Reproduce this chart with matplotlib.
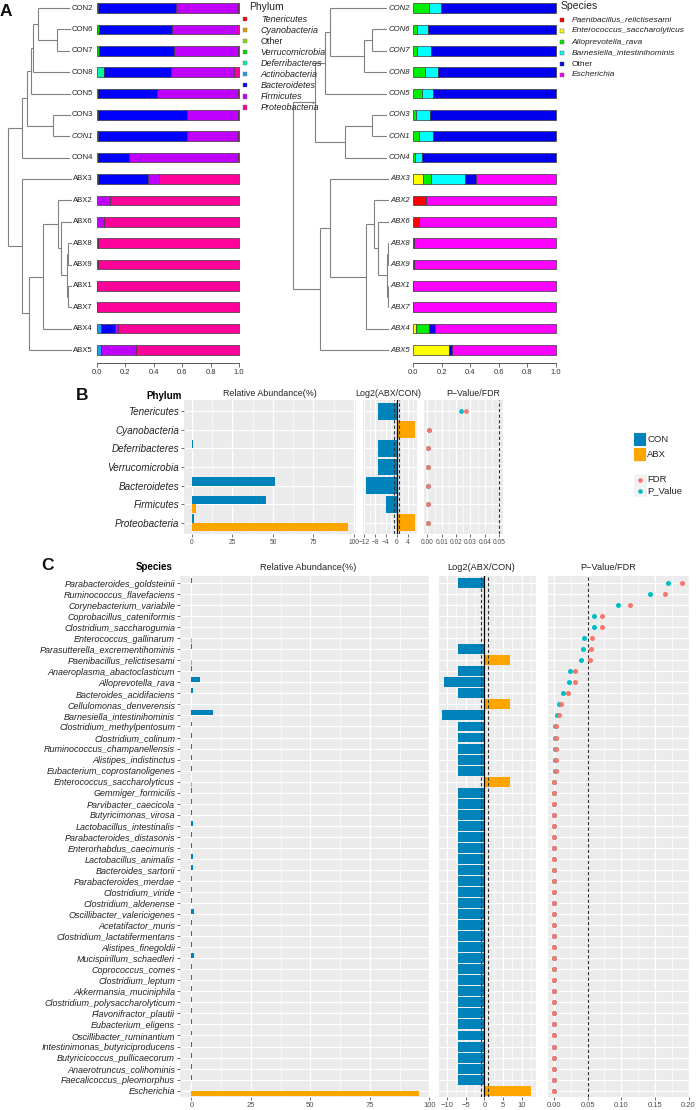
import numpy as np
import matplotlib.pyplot as plt
from matplotlib.patches import Rectangle
from matplotlib.ticker import MultipleLocator

plt.rcParams['font.family'] = ['Liberation Sans', 'DejaVu Sans']

# ---------------- panel A data ----------------
samples = ['CON2', 'CON6', 'CON7', 'CON8', 'CON5', 'CON3', 'CON1', 'CON4',
           'ABX3', 'ABX2', 'ABX6', 'ABX8', 'ABX9', 'ABX1', 'ABX7', 'ABX4', 'ABX5']

phyla = ['Tenericutes', 'Cyanobacteria', 'Other', 'Verrucomicrobia', 'Deferribacteres',
         'Actinobacteria', 'Bacteroidetes', 'Firmicutes', 'Proteobacteria']
phylum_colors = ['#FF0000', '#E69A00', '#7FE000', '#00D800', '#00F5A0',
                 '#1E9BEF', '#0000FF', '#C000FF', '#FF0099']

tenericutes     = [0, 0, 0, 0, 0, 0, 0, 0, 0, 0, 0, 0, 0, 0, 0, 0, 0]
cyanobacteria   = [0, 0, 0, 0, 0, 0, 0, 0, 0, 0, 0, 0, 0, 0, 0, 0, 0]
other_phylum    = [0, 0, 0, 0, 0, 0, 0, 0, 0, 0, 0, 0, 0, 0, 0, 0, 0]
verrucomicrobia = [0.004, 0.015, 0.015, 0, 0.008, 0.004, 0.01, 0.01, 0, 0, 0, 0, 0, 0, 0, 0, 0]
deferribacteres = [0, 0, 0, 0.05, 0, 0, 0, 0, 0, 0, 0, 0, 0, 0, 0, 0, 0]
actinobacteria  = [0, 0, 0, 0, 0, 0, 0, 0, 0.008, 0, 0, 0, 0, 0, 0, 0.025, 0.025]
bacteroidetes   = [0.551, 0.515, 0.525, 0.473, 0.412, 0.63, 0.626, 0.213,
                   0.352, 0, 0, 0, 0, 0, 0, 0.105, 0]
firmicutes      = [0.44, 0.455, 0.45, 0.442, 0.575, 0.361, 0.359, 0.767,
                   0.077, 0.094, 0.05, 0.008, 0.008, 0.003, 0.003, 0.02, 0.252]
proteobacteria  = [0.005, 0.015, 0.01, 0.035, 0.005, 0.005, 0.005, 0.01,
                   0.563, 0.906, 0.95, 0.992, 0.992, 0.997, 0.997, 0.85, 0.723]
phylum_series = [tenericutes, cyanobacteria, other_phylum, verrucomicrobia, deferribacteres,
                 actinobacteria, bacteroidetes, firmicutes, proteobacteria]

species_a = ['Paenibacillus_relictisesami', 'Enterococcus_saccharolyticus', 'Alloprevotella_rava',
             'Barnesiella_intestinihominis', 'Other', 'Escherichia']
species_colors = ['#FF0000', '#FFFF00', '#00EE00', '#00FFFF', '#0000EE', '#FF00FF']

paenibacillus = [0, 0, 0, 0, 0, 0, 0, 0, 0, 0.094, 0.042, 0, 0, 0, 0, 0, 0]
enterococcus  = [0, 0, 0, 0, 0, 0, 0, 0, 0.07, 0, 0, 0, 0, 0, 0, 0.021, 0.25]
alloprevotella = [0.112, 0.03, 0.03, 0.084, 0.066, 0.023, 0.045, 0.014,
                  0.056, 0, 0, 0, 0, 0, 0, 0.091, 0]
barnesiella   = [0.082, 0.073, 0.094, 0.094, 0.077, 0.099, 0.093, 0.052,
                 0.237, 0, 0, 0, 0, 0, 0, 0, 0]
other_species = [0.806, 0.897, 0.876, 0.822, 0.857, 0.878, 0.862, 0.934,
                 0.077, 0, 0, 0.005, 0.005, 0.002, 0.002, 0.04, 0.026]
escherichia   = [0, 0, 0, 0, 0, 0, 0, 0,
                 0.56, 0.906, 0.958, 0.995, 0.995, 0.998, 0.998, 0.848, 0.724]
species_series = [paenibacillus, enterococcus, alloprevotella, barnesiella, other_species, escherichia]

# dendrograms: (height, left, right), leaves at height 0, root at 1
left_tree = (1.0,
             (0.835,
              (0.776,
               (0.729, (0.706, (0.647, 'CON2', (0.424, 'CON6', 'CON7')), 'CON8'), 'CON5'),
               (0.471, 'CON3', 'CON1')),
              'CON4'),
             (0.835, 'ABX3',
              (0.753,
               (0.588,
                (0.412, 'ABX2',
                 (0.376, 'ABX6', (0.306, (0.294, 'ABX8', 'ABX9'), (0.294, 'ABX1', 'ABX7')))),
                'ABX4'),
               'ABX5')))

right_tree = (1.0,
              (0.812,
               (0.726, (0.684, 'CON2', (0.393, (0.325, 'CON6', 'CON7'), 'CON8')), 'CON5'),
               (0.556, (0.325, 'CON3', 'CON1'), 'CON4')),
              (0.769,
               (0.684, 'ABX3',
                (0.376,
                 (0.308, 'ABX2',
                  (0.274, 'ABX6', (0.197, (0.188, 'ABX8', 'ABX9'), (0.188, 'ABX1', 'ABX7')))),
                 'ABX4')),
               'ABX5'))

# ---------------- panel B data ----------------
b_phyla = ['Tenericutes', 'Cyanobacteria', 'Deferribacteres', 'Verrucomicrobia',
           'Bacteroidetes', 'Firmicutes', 'Proteobacteria']
b_con = [0.05, 0.0, 0.8, 0.3, 51.5, 45.6, 1.0]
b_abx = [0.0, 0.05, 0.0, 0.0, 0.1, 2.5, 96.5]
b_log2 = [-6.8, 6.6, -6.8, -6.8, -11.4, -4.1, 6.6]
b_p = [0.0236, 0.0009, 0.0003, 0.0003, 0.0003, 0.0003, 0.0003]
b_fdr = [0.0267, 0.0012, 0.0004, 0.0004, 0.0004, 0.0004, 0.0004]

# ---------------- panel C data ----------------
c_species = ['Parabacteroides_goldsteinii', 'Ruminococcus_flavefaciens', 'Corynebacterium_variabile',
             'Coprobacillus_cateniformis', 'Clostridium_saccharogumia', 'Enterococcus_gallinarum',
             'Parasutterella_excrementihominis', 'Paenibacillus_relictisesami',
             'Anaeroplasma_abactoclasticum', 'Alloprevotella_rava', 'Bacteroides_acidifaciens',
             'Cellulomonas_denverensis', 'Barnesiella_intestinihominis', 'Clostridium_methylpentosum',
             'Clostridium_colinum', 'Ruminococcus_champanellensis', 'Alistipes_indistinctus',
             'Eubacterium_coprostanoligenes', 'Enterococcus_saccharolyticus', 'Gemmiger_formicilis',
             'Parvibacter_caecicola', 'Butyricimonas_virosa', 'Lactobacillus_intestinalis',
             'Parabacteroides_distasonis', 'Enterorhabdus_caecimuris', 'Lactobacillus_animalis',
             'Bacteroides_sartorii', 'Parabacteroides_merdae', 'Clostridium_viride',
             'Clostridium_aldenense', 'Oscillibacter_valericigenes', 'Acetatifactor_muris',
             'Clostridium_lactatifermentans', 'Alistipes_finegoldii', 'Mucispirillum_schaedleri',
             'Coprococcus_comes', 'Clostridium_leptum', 'Akkermansia_muciniphila',
             'Clostridium_polysaccharolyticum', 'Flavonifractor_plautii', 'Eubacterium_eligens',
             'Oscillibacter_ruminantium', 'Intestinimonas_butyriciproducens',
             'Butyricicoccus_pullicaecorum', 'Anaerotruncus_colihominis', 'Faecalicoccus_pleomorphus',
             'Escherichia']
c_con = [0.05, 0.02, 0.0, 0.0, 0.0, 0.0, 0.3, 0.0, 0.05, 3.8,
         0.6, 0.0, 8.9, 0.1, 0.05, 0.05, 0.05, 0.05, 0.0, 0.05,
         0.05, 0.05, 0.7, 0.3, 0.2, 0.8, 0.7, 0.3, 0.3, 0.3,
         0.9, 0.2, 0.3, 0.2, 0.9, 0.1, 0.3, 0.2, 0.1, 0.3,
         0.2, 0.1, 0.1, 0.2, 0.3, 0.05, 0.02]
c_abx = [0.0, 0.0, 0.02, 0.02, 0.02, 0.05, 0.0, 0.15, 0.0, 0.0,
         0.0, 0.03, 0.0, 0.0, 0.0, 0.0, 0.0, 0.0, 0.2, 0.0,
         0.0, 0.0, 0.0, 0.0, 0.0, 0.0, 0.0, 0.0, 0.0, 0.0,
         0.0, 0.0, 0.0, 0.0, 0.0, 0.0, 0.0, 0.0, 0.0, 0.0,
         0.0, 0.0, 0.0, 0.0, 0.0, 0.0, 95.5]
c_log2 = [-7.0, 0.0, 0.0, 0.0, 0.0, 0.0, -7.0, 7.0, -7.0, -10.75,
          -7.0, 7.0, -11.3, -7.0, -7.0, -7.0, -7.0, -7.0, 7.0, -7.0,
          -7.0, -7.0, -7.0, -7.0, -7.0, -7.0, -7.0, -7.0, -7.0, -7.0,
          -7.0, -7.0, -7.0, -7.0, -7.0, -7.0, -7.0, -7.0, -7.0, -7.0,
          -7.0, -7.0, -7.0, -7.0, -7.0, -7.0, 12.5]
c_p = [0.1696, 0.1434, 0.0955, 0.0589, 0.0589, 0.0440, 0.0425, 0.0400, 0.0233, 0.0228,
       0.0138, 0.0069, 0.0040, 0.0015, 0.0015, 0.0015, 0.0015, 0.0015, 0.0003, 0.0003,
       0.0003, 0.0003, 0.0003, 0.0003, 0.0003, 0.0003, 0.0003, 0.0003, 0.0003, 0.0003,
       0.0003, 0.0003, 0.0003, 0.0003, 0.0003, 0.0003, 0.0003, 0.0003, 0.0003, 0.0003,
       0.0003, 0.0003, 0.0003, 0.0003, 0.0003, 0.0003, 0.0003]
c_fdr = [0.1904, 0.1647, 0.1123, 0.0712, 0.0712, 0.0559, 0.0554, 0.0530, 0.0312, 0.0312,
         0.0203, 0.0109, 0.0079, 0.0035, 0.0035, 0.0035, 0.0035, 0.0035, 0.0006, 0.0006,
         0.0006, 0.0006, 0.0006, 0.0006, 0.0006, 0.0006, 0.0006, 0.0006, 0.0006, 0.0006,
         0.0006, 0.0006, 0.0006, 0.0006, 0.0006, 0.0006, 0.0006, 0.0006, 0.0006, 0.0006,
         0.0006, 0.0006, 0.0006, 0.0006, 0.0006, 0.0006, 0.0006]

CON_C = '#0083BA'
ABX_C = '#FFA500'
FDR_C = '#F8766D'
P_C = '#00BFC4'

W, H = 700.0, 1110.0
fig = plt.figure(figsize=(7, 11.1), dpi=100)
fig.patch.set_facecolor('white')


def add_ax(left, top, width, height):
    return fig.add_axes([left / W, 1 - (top + height) / H, width / W, height / H])


# ---------------- panel A ----------------
row_px = 21.375
ylim_a = (16 + 13 / row_px, -8 / row_px)


def draw_tree(ax, node, color):
    if isinstance(node, str):
        return 0.0, samples.index(node)
    h, a, b = node
    ha, ya = draw_tree(ax, a, color)
    hb, yb = draw_tree(ax, b, color)
    kw = dict(color=color, lw=0.8, solid_capstyle='butt')
    ax.plot([h, h], [ya, yb], **kw)
    ax.plot([h, ha], [ya, ya], **kw)
    ax.plot([h, hb], [yb, yb], **kw)
    return h, (ya + yb) / 2


def dendro(left, width, root_px, leaf_px, tree, italic_all):
    ax = add_ax(left, 0, width, 363)
    scale = leaf_px - root_px
    ax.set_xlim(1 + (root_px - left) / scale, -(left + width - leaf_px) / scale)
    ax.set_ylim(*ylim_a)
    ax.axis('off')
    draw_tree(ax, tree, '#808080')
    for i, s in enumerate(samples):
        st = 'italic' if (italic_all or s == 'CON1') else 'normal'
        ax.text(0, i, s, ha='right', va='center', fontsize=5.6, style=st, color='#222222',
                bbox=dict(fc='white', ec='none', pad=0.8), zorder=5)
    return ax


def stacked(left, width, series, colors):
    ax = add_ax(left, 0, width, 363)
    y = np.arange(len(samples))
    start = np.zeros(len(samples))
    for vals, c in zip(series, colors):
        vals = np.asarray(vals, dtype=float)
        m = vals > 0
        ax.barh(y[m], vals[m], left=start[m], height=0.45, color=c,
                edgecolor='#3a3a3a', linewidth=0.5, clip_on=False)
        start += vals
    ax.set_xlim(0, 1)
    ax.set_ylim(*ylim_a)
    ax.set_facecolor('none')
    for s in ['top', 'right', 'left']:
        ax.spines[s].set_visible(False)
    ax.spines['bottom'].set_color('#555555')
    ax.spines['bottom'].set_linewidth(0.7)
    ax.spines['bottom'].set_bounds(0, 1)
    ax.set_yticks([])
    ax.set_xticks([0, 0.2, 0.4, 0.6, 0.8, 1.0])
    ax.set_xticklabels(['0.0', '0.2', '0.4', '0.6', '0.8', '1.0'])
    ax.tick_params(axis='x', length=3, width=0.6, color='#555555', labelsize=5.5,
                   labelcolor='#333333', pad=1.5)
    return ax


dendro(0, 95, 8, 93, left_tree, False)
dendro(285, 127, 293, 410, right_tree, True)
stacked(97, 142, phylum_series, phylum_colors)
stacked(413, 143, species_series, species_colors)

# ---------------- panels B and C helpers ----------------


def panel(left, top, width, height, n, xlim, major, minor):
    ax = add_ax(left, top, width, height)
    ax.set_facecolor('#EBEBEB')
    for s in ax.spines.values():
        s.set_visible(False)
    ax.set_xlim(*xlim)
    ax.set_ylim(n - 0.4, -0.6)
    ax.set_xticks(major)
    ax.xaxis.set_minor_locator(MultipleLocator(minor))
    ax.set_yticks(np.arange(n))
    ax.set_axisbelow(True)
    ax.grid(which='major', color='white', lw=0.9)
    ax.grid(which='minor', axis='x', color='white', lw=0.45)
    ax.tick_params(axis='x', which='minor', length=0)
    ax.tick_params(axis='y', length=0, labelleft=False)
    return ax


def abundance(ax, con, abx, labels, lab_size, tick_size):
    y = np.arange(len(con))
    ax.barh(y - 0.225, con, height=0.45, color=CON_C)
    ax.barh(y + 0.225, abx, height=0.45, color=ABX_C)
    ax.tick_params(axis='y', length=2, width=0.5, color='#333333', labelleft=True, pad=1.5)
    ax.set_yticklabels(labels, style='italic', fontsize=lab_size, color='#222222')
    ax.tick_params(axis='x', length=2, width=0.5, color='#333333', labelsize=tick_size,
                   labelcolor='#4D4D4D', pad=1.5)


def log2_panel(ax, vals, tick_size):
    vals = np.asarray(vals)
    y = np.arange(len(vals))
    cols = [CON_C if v < 0 else ABX_C for v in vals]
    ax.barh(y, vals, height=0.9, color=cols)
    ax.axvline(0, color='black', lw=0.9)
    ax.axvline(-1, color='#333333', lw=0.8, ls=(0, (3, 2)))
    ax.axvline(1, color='#333333', lw=0.8, ls=(0, (3, 2)))
    ax.tick_params(axis='x', length=2, width=0.5, color='#333333', labelsize=tick_size,
                   labelcolor='#4D4D4D', pad=1.5)


def pval_panel(ax, p, fdr, labels, tick_size, ms):
    y = np.arange(len(p))
    ax.axvline(0.05, color='#333333', lw=0.8, ls=(0, (3, 2)))
    ax.scatter(p, y, s=ms, color=P_C, lw=0, zorder=3)
    ax.scatter(fdr, y, s=ms, color=FDR_C, lw=0, zorder=4)
    ax.set_xticklabels(labels)
    ax.tick_params(axis='x', length=2, width=0.5, color='#333333', labelsize=tick_size,
                   labelcolor='#4D4D4D', pad=1.5)


# ---------------- panel B ----------------
nb = len(b_phyla)
axb1 = panel(184, 400, 172, 134, nb, (-4.9, 101.3), [0, 25, 50, 75, 100], 12.5)
abundance(axb1, b_con, b_abx, b_phyla, 7.1, 4.8)
axb2 = panel(363, 400, 54, 134, nb, (-12.5, 7.5), [-12, -8, -4, 0, 4], 2)
log2_panel(axb2, b_log2, 4.8)
axb3 = panel(424, 400, 79, 134, nb, (-0.0023, 0.0526), [0, 0.01, 0.02, 0.03, 0.04, 0.05], 0.005)
pval_panel(axb3, b_p, b_fdr, ['0.00', '0.01', '0.02', '0.03', '0.04', '0.05'], 4.8, 12)

# ---------------- panel C ----------------
nc = len(c_species)
axc1 = panel(180, 576.4, 250, 520.9, nc, (-4.8, 100.3), [0, 25, 50, 75, 100], 12.5)
abundance(axc1, c_con, c_abx, c_species, 6.5, 5.5)
axc2 = panel(439, 576.4, 97, 520.9, nc, (-12.2, 13.9), [-10, -5, 0, 5, 10], 2.5)
log2_panel(axc2, c_log2, 5.5)
axc3 = panel(547.7, 576.4, 140.8, 520.9, nc, (-0.0095, 0.1995), [0, 0.05, 0.1, 0.15, 0.2], 0.025)
pval_panel(axc3, c_p, c_fdr, ['0.00', '0.05', '0.10', '0.15', '0.20'], 5.5, 13)

# ---------------- overlay: titles, panel letters, legends ----------------
lay = fig.add_axes([0, 0, 1, 1])
lay.set_xlim(0, W)
lay.set_ylim(H, 0)
lay.axis('off')
lay.patch.set_alpha(0)

for letter, x, y in [('A', 6, 11), ('B', 82, 395), ('C', 48, 566)]:
    lay.text(x, y, letter, fontsize=12.5, fontweight='bold', ha='center', va='center', color='#111111')

lay.text(164, 396, 'Phylum', fontsize=7, fontweight='bold', ha='center', va='center')
lay.text(270, 394, 'Relative Abundance(%)', fontsize=6.4, ha='center', va='center', color='#222222')
lay.text(388, 394, 'Log2(ABX/CON)', fontsize=6.4, ha='center', va='center', color='#222222')
lay.text(473, 394, 'P\u2212Value/FDR', fontsize=6.4, ha='center', va='center', color='#222222')

lay.text(154.5, 567, 'Species', fontsize=7, fontweight='bold', ha='center', va='center')
lay.text(308, 567, 'Relative Abundance(%)', fontsize=6.6, ha='center', va='center', color='#222222')
lay.text(481, 567, 'Log2(ABX/CON)', fontsize=6.6, ha='center', va='center', color='#222222')
lay.text(608, 567, 'P\u2212Value/FDR', fontsize=6.6, ha='center', va='center', color='#222222')

# phylum legend
lay.text(249, 7.5, 'Phylum', fontsize=7.5, va='center', color='#222222')
for k, (name, c) in enumerate(zip(phyla, phylum_colors)):
    yk = 19.3 + 11 * k
    lay.add_patch(Rectangle((242.5, yk - 2.2), 4.4, 4.4, fc=c, ec='#777777', lw=0.3))
    lay.text(260.7, yk, name, fontsize=6.5, va='center', color='#222222',
             style='normal' if name == 'Other' else 'italic')

# species legend
lay.text(561, 6, 'Species', fontsize=7.5, va='center', color='#222222')
for k, (name, c) in enumerate(zip(species_a, species_colors)):
    yk = 20 + 11 * k
    lay.add_patch(Rectangle((559.8, yk - 2.2), 4.4, 4.4, fc=c, ec='#555555', lw=0.3))
    lay.text(571.7, yk, name, fontsize=6, va='center', color='#222222',
             style='normal' if name == 'Other' else 'italic')

# group / significance legend
for name, c, yk in [('CON', CON_C, 439), ('ABX', ABX_C, 454.5)]:
    lay.add_patch(Rectangle((633.5, yk - 7), 13, 14, fc='#F2F2F2', ec='none'))
    lay.add_patch(Rectangle((634, yk - 6.5), 12, 13, fc=c, ec='none'))
    lay.text(647, yk, name, fontsize=6.8, va='center', color='#222222')
for name, c, yk in [('FDR', FDR_C, 479.5), ('P_Value', P_C, 491)]:
    lay.add_patch(Rectangle((633.5, yk - 5.7), 13, 11.4, fc='#F2F2F2', ec='none'))
    lay.plot([640], [yk], 'o', ms=3.3, color=c, mec='none')
    lay.text(647, yk, name, fontsize=6.8, va='center', color='#222222')

fig.savefig('out.png', dpi=100, facecolor='white')
